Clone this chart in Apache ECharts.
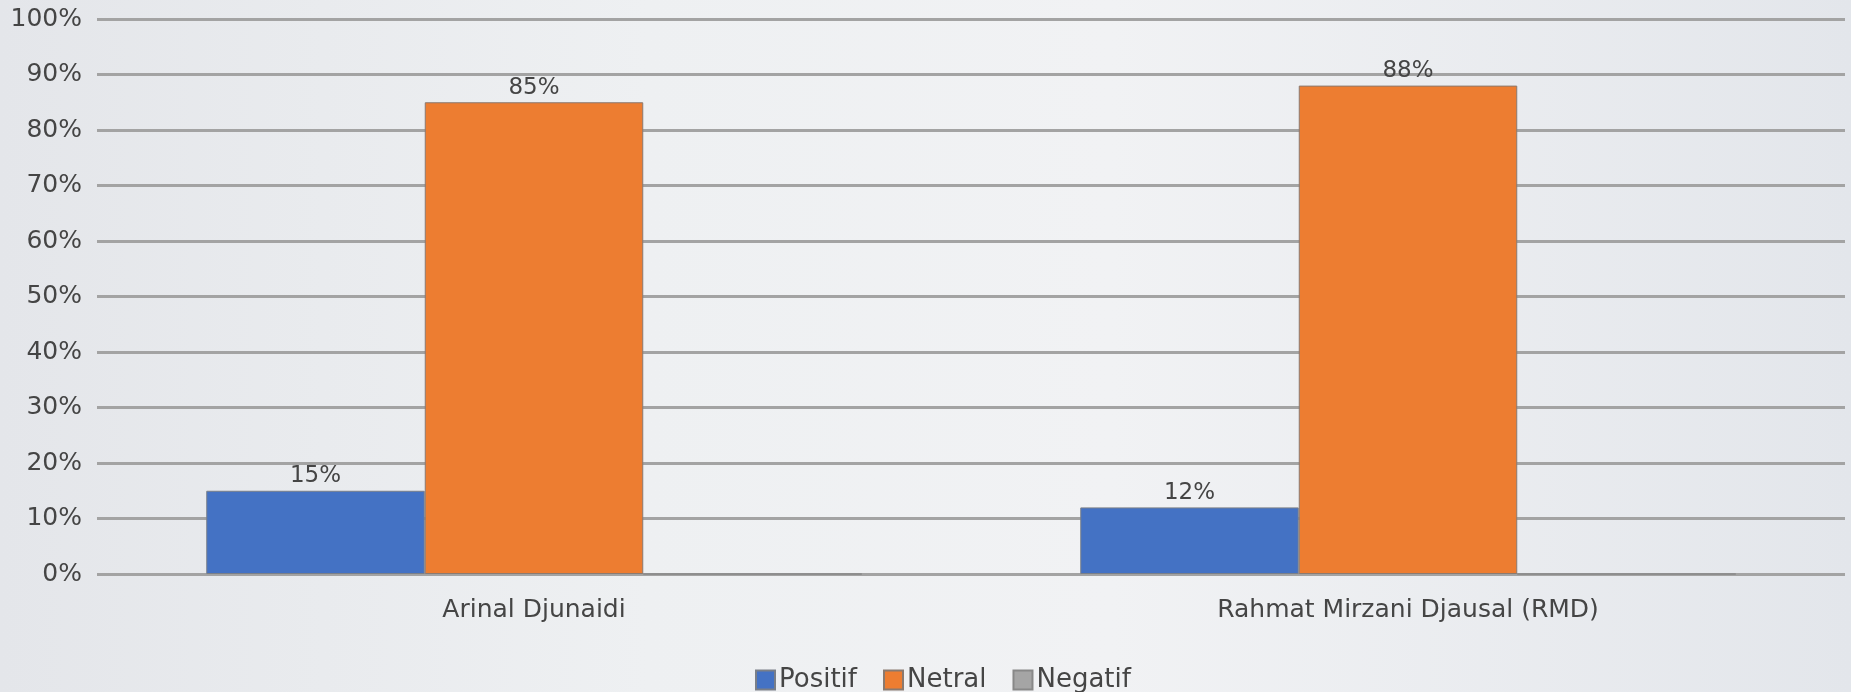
<!DOCTYPE html>
<html>
<head>
<meta charset="utf-8">
<script src="https://cdn.jsdelivr.net/npm/echarts@6/dist/echarts.min.js"></script>
<style>
  html, body { margin: 0; padding: 0; }
  #chart {
    width: 1851px; height: 692px;
    background: linear-gradient(90deg, #e4e6ea 0%, #eef0f2 35%, #f1f2f4 60%, #e3e6eb 100%);
  }
</style>
</head>
<body>
<div id="chart"></div>
<script>
// kandidat
const categories = ['Arinal Djunaidi', 'Rahmat Mirzani Djausal (RMD)'];
// persen sentimen
const positif = [15, 12];
const netral = [85, 88];
const negatif = [0, 0];
const yTicks = [0, 10, 20, 30, 40, 50, 60, 70, 80, 90, 100];

const textColor = '#454545';
const font = '"DejaVu Sans", sans-serif';

const myChart = echarts.init(document.getElementById('chart'));

const barLabel = {
  show: true,
  position: 'top',
  distance: 3,
  color: textColor,
  fontFamily: font,
  fontSize: 23,
  formatter: (p) => (p.value ? p.value + '%' : ''),
};

const option = {
  backgroundColor: 'transparent',
  grid: { left: 97, right: 6, top: 19, bottom: 118 },
  legend: {
    top: 662,
    left: 750,
    itemWidth: 19,
    itemHeight: 19,
    itemGap: 26,
    icon: 'rect',
    textStyle: { color: textColor, fontFamily: font, fontSize: 26, padding: [0, 0, 0, -1] },
    data: ['Positif', 'Netral', 'Negatif'],
  },
  xAxis: {
    type: 'category',
    data: categories,
    axisLine: { show: false },
    axisTick: { show: false },
    axisLabel: { color: textColor, fontFamily: font, fontSize: 25, margin: 24 },
  },
  yAxis: {
    type: 'value',
    min: yTicks[0],
    max: yTicks[yTicks.length - 1],
    interval: 10,
    axisLabel: {
      color: textColor, fontFamily: font, fontSize: 25, margin: 15,
      formatter: '{value}%',
    },
    splitLine: { lineStyle: { color: '#a3a3a3', width: 3 } },
  },
  series: [
    {
      name: 'Positif', type: 'bar', data: positif,
      barGap: 0, barCategoryGap: '25%',
      itemStyle: { color: '#4472c4', borderColor: '#7a7f88', borderWidth: 1 },
      label: barLabel,
    },
    {
      name: 'Netral', type: 'bar', data: netral,
      itemStyle: { color: '#ed7d31', borderColor: '#8a7a70', borderWidth: 1 },
      label: barLabel,
    },
    {
      name: 'Negatif', type: 'bar', data: negatif,
      itemStyle: { color: '#a5a5a5', borderColor: '#888888', borderWidth: 1 },
      label: barLabel,
    },
  ],
};

myChart.setOption(option);
window.addEventListener('resize', myChart.resize);
</script>
</body>
</html>
